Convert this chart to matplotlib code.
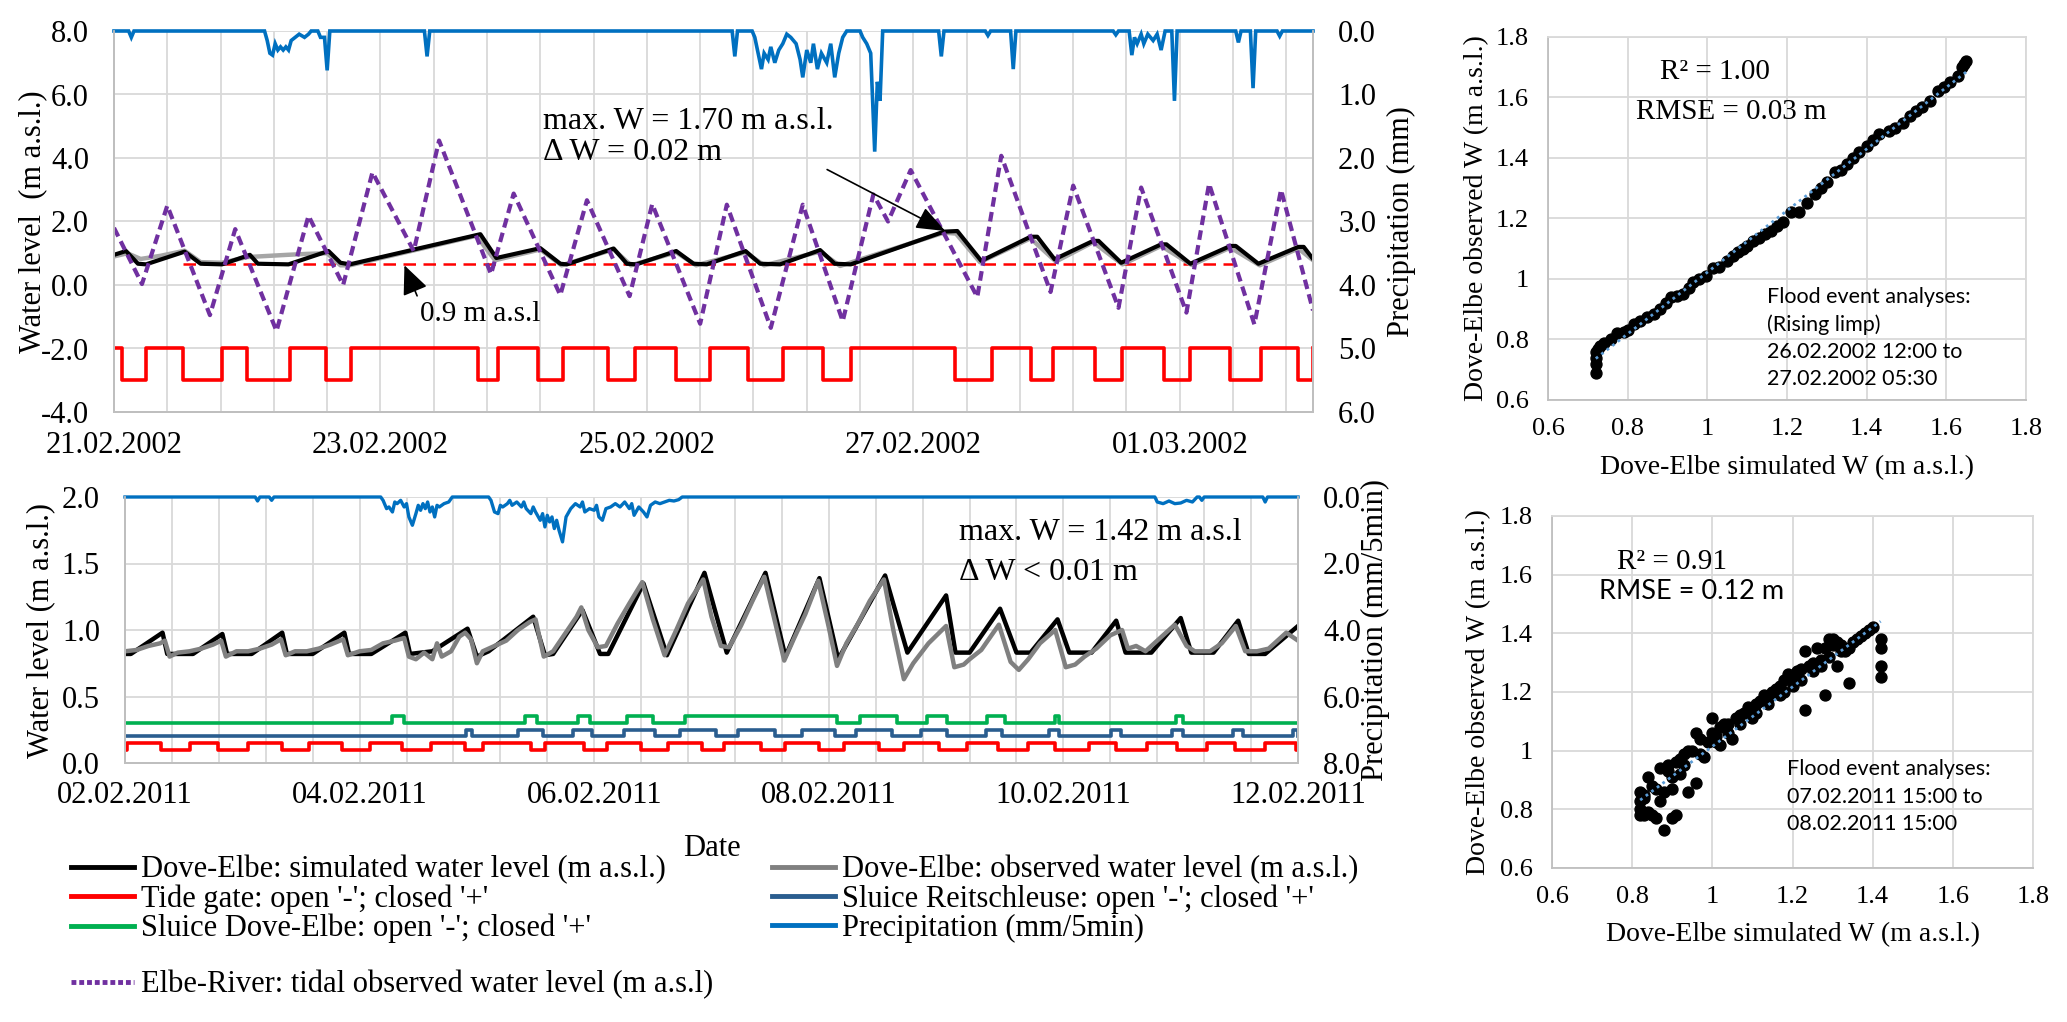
import matplotlib
matplotlib.use("Agg")
import matplotlib.pyplot as plt
import numpy as np
from matplotlib.lines import Line2D
from matplotlib.ticker import MultipleLocator, FixedLocator, FuncFormatter

plt.rcParams['font.family'] = ['Liberation Serif', 'DejaVu Serif']

# ---------------- Feb/Mar 2002 event (days after 21.02.2002 00:00) ----------------
sim02_t = [0.0, 0.09, 0.18, 0.24, 0.53, 0.65, 0.81, 1.02, 1.08, 1.31, 1.61, 1.70, 1.77,
           2.75, 2.87, 3.20, 3.35, 3.40, 3.75, 3.85, 3.92, 4.22, 4.35, 4.45, 4.74, 4.85,
           5.00, 5.30, 5.41, 5.53, 6.23, 6.33, 6.51, 6.88, 6.93, 7.06, 7.35, 7.39, 7.56,
           7.86, 7.90, 8.08, 8.38, 8.42, 8.59, 8.89, 8.93, 9.00]
sim02_w = [0.95, 1.07, 0.67, 0.65, 1.05, 0.67, 0.65, 0.95, 0.67, 0.65, 1.07, 0.70, 0.65,
           1.60, 0.85, 1.16, 0.67, 0.65, 1.15, 0.67, 0.65, 1.07, 0.67, 0.65, 1.07, 0.67,
           0.65, 1.10, 0.67, 0.65, 1.68, 1.70, 0.76, 1.52, 1.52, 0.81, 1.39, 1.39, 0.70,
           1.28, 1.28, 0.67, 1.23, 1.23, 0.67, 1.20, 1.20, 0.82]

obs02_t = [0.0, 0.10, 0.20, 0.35, 0.53, 0.65, 0.81, 1.00, 1.30, 1.45, 1.60, 1.70, 1.77,
           2.72, 2.86, 3.20, 3.36, 3.75, 3.88, 4.22, 4.37, 4.74, 4.88, 5.30, 5.45, 6.23,
           6.32, 6.50, 6.88, 7.07, 7.35, 7.57, 7.86, 8.09, 8.38, 8.60, 8.89, 9.00]
obs02_w = [0.90, 1.00, 0.82, 0.92, 1.08, 0.72, 0.70, 0.88, 0.95, 0.98, 1.00, 0.62, 0.62,
           1.55, 0.78, 1.12, 0.62, 1.12, 0.62, 1.03, 0.62, 1.03, 0.62, 1.05, 0.60, 1.65,
           1.62, 0.72, 1.47, 0.74, 1.35, 0.65, 1.23, 0.63, 1.18, 0.62, 1.15, 0.78]

elbe02_t = [0.0, 0.21, 0.40, 0.72, 0.91, 1.22, 1.46, 1.72, 1.94, 2.25, 2.44, 2.83, 3.00,
            3.35, 3.55, 3.87, 4.04, 4.40, 4.60, 4.93, 5.17, 5.47, 5.70, 5.81, 5.98, 6.48,
            6.66, 7.03, 7.20, 7.54, 7.71, 8.05, 8.22, 8.56, 8.76, 9.00]
elbe02_w = [1.80, 0.03, 2.50, -0.95, 1.76, -1.45, 2.18, 0.00, 3.55, 1.07, 4.55, 0.34, 2.88,
            -0.32, 2.67, -0.35, 2.55, -1.22, 2.53, -1.35, 2.53, -1.14, 2.85, 2.00, 3.62, -0.38,
            4.07, -0.22, 3.13, -0.72, 3.07, -0.87, 3.19, -1.24, 3.00, -0.80]

# tide gate open periods (closed = -2, open = -3)
tide02_open = [(0.06, 0.24), (0.52, 0.81), (1.00, 1.32), (1.59, 1.78), (2.73, 2.88),
               (3.18, 3.37), (3.71, 3.91), (4.22, 4.47), (4.76, 5.02), (5.32, 5.53),
               (6.31, 6.59), (6.88, 7.05), (7.36, 7.57), (7.88, 8.08), (8.38, 8.61),
               (8.89, 9.00)]

thr02_t = [0.52, 8.40]
thr02_w = 0.65

# precipitation (mm), hanging from the top axis
rain02_t = [0.00, 0.11, 0.13, 0.15,
            1.13, 1.15, 1.17, 1.19, 1.21, 1.23, 1.25, 1.27, 1.29, 1.31, 1.33, 1.36, 1.39,
            1.43, 1.46, 1.48,
            1.53, 1.55, 1.58, 1.60, 1.62,
            2.33, 2.35, 2.37,
            4.64, 4.66, 4.68,
            4.79, 4.81, 4.83, 4.86, 4.88, 4.91, 4.93, 4.96, 4.99, 5.02, 5.05, 5.08, 5.12,
            5.15, 5.17, 5.20, 5.23, 5.25, 5.28, 5.31, 5.35, 5.38, 5.41, 5.44, 5.47, 5.50,
            5.60, 5.62, 5.65, 5.68, 5.71, 5.73, 5.75, 5.77,
            6.19, 6.21, 6.23,
            6.54, 6.56, 6.58,
            6.73, 6.75, 6.77,
            7.50, 7.52, 7.54,
            7.62, 7.64, 7.66, 7.68, 7.71, 7.73, 7.76, 7.80, 7.83, 7.86, 7.89,
            7.94, 7.96, 7.98,
            8.42, 8.44, 8.46,
            8.53, 8.55, 8.57,
            8.73, 8.75, 8.77, 9.00]
rain02_mm = [0.00, 0.00, 0.10, 0.00,
             0.00, 0.15, 0.35, 0.38, 0.20, 0.30, 0.25, 0.30, 0.25, 0.30, 0.15, 0.10, 0.05,
             0.10, 0.05, 0.00,
             0.00, 0.10, 0.10, 0.62, 0.00,
             0.00, 0.40, 0.00,
             0.00, 0.40, 0.00,
             0.00, 0.10, 0.30, 0.60, 0.35, 0.45, 0.25, 0.50, 0.30, 0.20, 0.05, 0.10, 0.20,
             0.45, 0.73, 0.30, 0.50, 0.20, 0.60, 0.35, 0.50, 0.20, 0.73, 0.35, 0.10, 0.00,
             0.00, 0.10, 0.20, 0.35, 1.90, 0.80, 1.10, 0.00,
             0.00, 0.40, 0.00,
             0.00, 0.07, 0.00,
             0.00, 0.60, 0.00,
             0.00, 0.06, 0.00,
             0.00, 0.38, 0.10, 0.20, 0.05, 0.20, 0.05, 0.15, 0.05, 0.30, 0.00,
             0.00, 1.10, 0.00,
             0.00, 0.18, 0.00,
             0.00, 0.90, 0.00,
             0.00, 0.08, 0.00, 0.00]

dates02_pos = [0, 2, 4, 6, 8]
dates02_lab = ['21.02.2002', '23.02.2002', '25.02.2002', '27.02.2002', '01.03.2002']

# ---------------- Feb 2011 event (days after 02.02.2011 00:00) ----------------
sim11_t = [0.0, 0.05, 0.32, 0.36, 0.58, 0.83, 0.87, 1.08, 1.34, 1.38, 1.60, 1.87, 1.91,
           2.10, 2.39, 2.43, 2.62, 2.92, 3.00, 3.10, 3.48, 3.58, 3.65, 3.90, 4.05, 4.12,
           4.42, 4.62, 4.94, 5.13, 5.46, 5.63, 5.92, 6.08, 6.48, 6.67, 7.00, 7.08, 7.20,
           7.46, 7.60, 7.72, 7.95, 8.05, 8.24, 8.45, 8.53, 8.75, 9.00, 9.09, 9.28, 9.49,
           9.58, 9.72, 10.0]
sim11_w = [0.82, 0.82, 0.98, 0.82, 0.82, 0.97, 0.82, 0.82, 0.98, 0.82, 0.82, 0.98, 0.82,
           0.82, 0.98, 0.82, 0.84, 1.01, 0.80, 0.84, 1.10, 0.81, 0.82, 1.15, 0.82, 0.82,
           1.35, 0.81, 1.43, 0.83, 1.43, 0.80, 1.39, 0.78, 1.41, 0.83, 1.26, 0.83, 0.83,
           1.16, 0.83, 0.83, 1.08, 0.83, 0.83, 1.07, 0.83, 0.83, 1.09, 0.83, 0.83, 1.07,
           0.82, 0.82, 1.03]

obs11_t = [0.0, 0.1, 0.2, 0.3, 0.34, 0.38, 0.45, 0.55, 0.65, 0.75, 0.82, 0.86, 0.95, 1.05,
           1.15, 1.25, 1.33, 1.37, 1.45, 1.55, 1.65, 1.75, 1.86, 1.90, 2.0, 2.1, 2.2, 2.3,
           2.38, 2.42, 2.48, 2.55, 2.62, 2.66, 2.70, 2.78, 2.85, 2.90, 2.95, 3.0, 3.05, 3.15,
           3.25, 3.35, 3.45, 3.50, 3.57, 3.65, 3.75, 3.85, 3.89, 3.95, 4.03, 4.10, 4.20, 4.30,
           4.41, 4.50, 4.60, 4.70, 4.80, 4.93, 5.0, 5.08, 5.15, 5.25, 5.35, 5.45, 5.55, 5.62,
           5.70, 5.80, 5.91, 6.0, 6.07, 6.15, 6.25, 6.35, 6.47, 6.55, 6.64, 6.72, 6.85, 7.0,
           7.07, 7.15, 7.20, 7.30, 7.45, 7.55, 7.62, 7.70, 7.80, 7.93, 8.02, 8.10, 8.18, 8.28,
           8.40, 8.50, 8.55, 8.62, 8.70, 8.80, 8.95, 9.05, 9.12, 9.25, 9.35, 9.47, 9.55, 9.65,
           9.75, 9.90, 10.0]
obs11_w = [0.84, 0.85, 0.88, 0.90, 0.92, 0.80, 0.83, 0.84, 0.86, 0.89, 0.92, 0.80, 0.84, 0.84,
           0.86, 0.89, 0.93, 0.81, 0.84, 0.84, 0.86, 0.89, 0.93, 0.81, 0.84, 0.85, 0.90, 0.92,
           0.94, 0.80, 0.78, 0.83, 0.78, 0.90, 0.80, 0.84, 0.95, 0.98, 0.93, 0.75, 0.84, 0.88,
           0.92, 1.00, 1.06, 1.08, 0.80, 0.84, 0.97, 1.10, 1.17, 1.00, 0.87, 0.88, 1.05, 1.20,
           1.36, 1.08, 0.81, 1.00, 1.20, 1.38, 1.10, 0.88, 0.87, 1.03, 1.22, 1.40, 1.03, 0.77,
           0.93, 1.12, 1.37, 1.02, 0.73, 0.90, 1.05, 1.22, 1.38, 1.00, 0.63, 0.75, 0.90, 1.03,
           0.72, 0.74, 0.78, 0.85, 1.04, 0.76, 0.70, 0.78, 0.90, 1.00, 0.72, 0.74, 0.80, 0.86,
           0.96, 1.00, 0.86, 0.88, 0.84, 0.92, 1.04, 0.88, 0.84, 0.84, 0.90, 1.03, 0.84, 0.84,
           0.86, 0.98, 0.92]

# closed periods of the three gates (raised level)
tide11_closed = [(0.02, 0.31), (0.55, 0.79), (1.05, 1.34), (1.57, 1.85), (2.09, 2.36),
                 (2.61, 2.90), (3.05, 3.46), (3.58, 3.91), (4.11, 4.40), (4.63, 4.92),
                 (5.11, 5.42), (5.63, 5.92), (6.13, 6.43), (6.64, 6.94), (7.18, 7.44),
                 (7.70, 7.93), (8.22, 8.45), (8.71, 8.97), (9.22, 9.46), (9.72, 9.98)]
reit11_closed = [(2.91, 2.96), (3.35, 3.56), (3.82, 3.98), (4.25, 4.52), (4.73, 5.04),
                 (5.23, 5.54), (5.77, 6.05), (6.23, 6.54), (6.79, 7.01), (7.34, 7.48),
                 (7.88, 7.96), (8.41, 8.49), (8.93, 9.02), (9.45, 9.53), (9.96, 10.0)]
dove11_closed = [(2.28, 2.38), (3.41, 3.51), (3.86, 3.96), (4.28, 4.50), (4.77, 6.07),
                 (6.27, 6.58), (6.84, 7.01), (7.35, 7.50), (7.93, 7.96), (8.96, 9.02)]

rain11_t = [0.00, 1.11, 1.13, 1.15, 1.23, 1.25, 1.27,
            2.18, 2.20, 2.23, 2.25, 2.28, 2.30, 2.32, 2.35, 2.38, 2.40, 2.42, 2.45, 2.48,
            2.50, 2.52, 2.54, 2.56, 2.58, 2.60, 2.62, 2.64, 2.66, 2.68, 2.72, 2.76, 2.79,
            3.10, 3.12, 3.15, 3.18, 3.20, 3.22, 3.26, 3.28, 3.30, 3.34, 3.38, 3.40, 3.42,
            3.46, 3.48, 3.50, 3.54, 3.56, 3.58, 3.60, 3.62, 3.64, 3.66, 3.68, 3.70, 3.73,
            3.76, 3.80, 3.84, 3.88, 3.90, 3.92, 3.96, 4.00, 4.02, 4.04, 4.07, 4.10, 4.14,
            4.18, 4.22, 4.26, 4.30, 4.32, 4.34, 4.38, 4.42, 4.45, 4.48, 4.52, 4.56, 4.60,
            4.64, 4.68, 4.72, 4.75,
            8.78, 8.80, 8.85, 8.90, 8.95, 9.00, 9.05, 9.10, 9.14, 9.16, 9.18, 9.20,
            9.70, 9.72, 9.74, 10.0]
rain11_mm = [0.00, 0.00, 0.12, 0.00, 0.00, 0.10, 0.00,
             0.00, 0.10, 0.35, 0.30, 0.45, 0.15, 0.20, 0.10, 0.30, 0.20, 0.60, 0.85, 0.50,
             0.25, 0.40, 0.20, 0.35, 0.15, 0.45, 0.30, 0.60, 0.25, 0.30, 0.20, 0.15, 0.00,
             0.00, 0.10, 0.45, 0.50, 0.25, 0.30, 0.20, 0.10, 0.25, 0.15, 0.30, 0.15, 0.35,
             0.50, 0.30, 0.45, 0.70, 0.50, 0.90, 0.55, 0.75, 0.60, 0.95, 0.70, 1.00, 1.35,
             0.60, 0.35, 0.20, 0.30, 0.15, 0.45, 0.35, 0.40, 0.25, 0.60, 0.70, 0.35, 0.30,
             0.20, 0.30, 0.15, 0.35, 0.20, 0.55, 0.30, 0.45, 0.60, 0.25, 0.15, 0.20, 0.15,
             0.10, 0.12, 0.08, 0.00,
             0.00, 0.15, 0.20, 0.12, 0.20, 0.18, 0.10, 0.15, 0.00, 0.00, 0.10, 0.00,
             0.00, 0.15, 0.00, 0.00]

dates11_pos = [0, 2, 4, 6, 8, 10]
dates11_lab = ['02.02.2011', '04.02.2011', '06.02.2011', '08.02.2011', '10.02.2011', '12.02.2011']

# ---------------- scatter data ----------------
sc02_sim = [0.72, 0.72, 0.72, 0.72, 0.725, 0.73, 0.74, 0.757, 0.773, 0.79, 0.80, 0.816, 0.83,
            0.848, 0.865, 0.88, 0.895, 0.91, 0.925, 0.94, 0.955, 0.965, 0.98, 0.997, 1.015,
            1.03, 1.05, 1.065, 1.077, 1.09, 1.10, 1.115, 1.13, 1.145, 1.16, 1.175, 1.19, 1.21,
            1.23, 1.25, 1.27, 1.285, 1.30, 1.32, 1.335, 1.35, 1.365, 1.38, 1.40, 1.415, 1.43,
            1.455, 1.47, 1.49, 1.51, 1.525, 1.54, 1.56, 1.58, 1.595, 1.61, 1.63, 1.64, 1.645,
            1.65]
sc02_obs = [0.69, 0.72, 0.74, 0.76, 0.77, 0.78, 0.79, 0.80, 0.82, 0.825, 0.83, 0.85, 0.86,
            0.876, 0.885, 0.90, 0.92, 0.94, 0.945, 0.95, 0.97, 0.99, 1.0, 1.01, 1.035, 1.04,
            1.06, 1.075, 1.09, 1.10, 1.11, 1.125, 1.135, 1.15, 1.16, 1.175, 1.19, 1.22, 1.22,
            1.25, 1.28, 1.30, 1.32, 1.355, 1.36, 1.38, 1.40, 1.42, 1.44, 1.46, 1.48, 1.49,
            1.50, 1.515, 1.54, 1.555, 1.57, 1.59, 1.62, 1.635, 1.65, 1.67, 1.70, 1.71, 1.72]

sc11_sim = [0.82, 0.82, 0.82, 0.82, 0.83, 0.83, 0.84, 0.84, 0.85, 0.85, 0.86, 0.87, 0.87,
            0.88, 0.88, 0.89, 0.89, 0.90, 0.90, 0.91, 0.91, 0.92, 0.92, 0.93, 0.94, 0.94,
            0.95, 0.96, 0.96, 0.97, 0.98, 0.99, 1.00, 1.00, 1.01, 1.02, 1.02, 1.03, 1.04,
            1.05, 1.06, 1.07, 1.08, 1.09, 1.10, 1.10, 1.11, 1.12, 1.13, 1.14, 1.15, 1.16,
            1.17, 1.18, 1.18, 1.19, 1.20, 1.21, 1.22, 1.23, 1.23, 1.24, 1.25, 1.26, 1.27,
            1.28, 1.28, 1.29, 1.30, 1.30, 1.31, 1.31, 1.32, 1.33, 1.34, 1.35, 1.36, 1.37,
            1.38, 1.39, 1.40, 1.42, 1.42, 1.42, 1.42,
            0.83, 0.86, 0.90, 0.93, 0.97, 1.01, 1.04, 1.07, 1.11, 1.14, 1.17, 1.20, 1.22,
            1.25, 1.27, 1.29, 1.32, 1.34]
sc11_obs = [0.78, 0.80, 0.83, 0.86, 0.78, 0.84, 0.91, 0.79, 0.78, 0.88, 0.77, 0.83, 0.94,
            0.73, 0.86, 0.93, 0.95, 0.77, 0.87, 0.78, 0.96, 0.92, 0.97, 0.99, 0.86, 1.00,
            1.00, 0.89, 1.06, 1.04, 0.98, 1.03, 1.11, 1.06, 1.05, 1.02, 1.08, 1.09, 1.09,
            1.04, 1.11, 1.12, 1.13, 1.15, 1.11, 1.14, 1.16, 1.17, 1.19, 1.18, 1.20, 1.21,
            1.22, 1.20, 1.24, 1.26, 1.25, 1.27, 1.28, 1.34, 1.14, 1.29, 1.30, 1.35, 1.31,
            1.19, 1.35, 1.38, 1.36, 1.38, 1.29, 1.37, 1.36, 1.34, 1.23, 1.37, 1.38, 1.39,
            1.40, 1.41, 1.42, 1.38, 1.35, 1.29, 1.25,
            0.85, 0.87, 0.91, 0.95, 0.99, 1.03, 1.06, 1.09, 1.13, 1.16, 1.19, 1.22, 1.24,
            1.27, 1.29, 1.32, 1.34, 1.35]

# ---------------- colours ----------------
C_SIM = 'black'
C_OBS02 = '#A6A6A6'
C_OBS11 = '#808080'
C_TIDE = '#FF0000'
C_REIT = '#2A5D8F'
C_DOVE = '#00B050'
C_RAIN = '#0070C0'
C_ELBE = '#7030A0'
C_GRID = '#D9D9D9'
C_AXIS = '#BFBFBF'

FS = 22


def gate_line(intervals, t_end, base, alt):
    t, w = [0.0], [base]
    for a, b in intervals:
        t += [a, a, b, b]
        w += [base, alt, alt, base]
    t.append(t_end)
    w.append(base)
    return t, w


def style_axes(ax):
    ax.spines['top'].set_visible(False)
    for s in ['left', 'bottom', 'right']:
        ax.spines[s].set_color(C_AXIS)
        ax.spines[s].set_linewidth(1.3)


fig = plt.figure(figsize=(20.67, 10.22), dpi=100)

# ================= top time series (2002) =================
ax1 = fig.add_axes([114 / 2067, 1 - 412 / 1022, 1199 / 2067, 381 / 1022])
ax1.set_xlim(0, 9)
ax1.set_ylim(-4, 8)
ax1.xaxis.set_major_locator(FixedLocator(dates02_pos))
ax1.set_xticklabels(dates02_lab)
ax1.xaxis.set_minor_locator(MultipleLocator(0.4))
ax1.yaxis.set_major_locator(MultipleLocator(2))
ax1.yaxis.set_major_formatter(FuncFormatter(lambda v, p: f'{v:.1f}'))
ax1.grid(True, which='both', axis='x', color=C_GRID, lw=1.3)
ax1.grid(True, which='major', axis='y', color=C_GRID, lw=1.3)
ax1.set_axisbelow(True)
ax1.tick_params(axis='x', which='both', length=0, labelsize=FS, pad=14)
ax1.tick_params(axis='y', length=0, labelsize=FS, pad=18)
style_axes(ax1)

t, w = gate_line(tide02_open, 9.0, -2, -3)
ax1.plot(t, w, color=C_TIDE, lw=2.6)
ax1.plot(thr02_t, [thr02_w, thr02_w], color=C_TIDE, lw=1.8, dashes=(5, 3))
ax1.plot(obs02_t, obs02_w, color=C_OBS02, lw=3.2)
ax1.plot(sim02_t, sim02_w, color=C_SIM, lw=3.0)
ax1.plot(elbe02_t, elbe02_w, color=C_ELBE, lw=3.0, dashes=(2.3, 1.3), zorder=3)

ax1.set_ylabel('Water level  (m a.s.l.)', fontsize=FS, va='center')
ax1.yaxis.set_label_coords(-0.068, 0.5)

ax1.annotate('max. W = 1.70 m a.s.l.\nΔ W = 0.02 m', xy=(6.24, 1.70), xytext=(3.22, 5.62),
             fontsize=23, va='top', ha='left', linespacing=1.1, zorder=5,
             arrowprops=dict(arrowstyle='-|>,head_length=0.9,head_width=0.35',
                             color='black', lw=1.2, mutation_scale=20,
                             relpos=(0.82, 0.35), shrinkA=0, shrinkB=0))
ax1.annotate('0.9 m a.s.l', xy=(2.18, 0.62), xytext=(2.30, -0.92), fontsize=21,
             va='center', ha='left', zorder=5,
             arrowprops=dict(arrowstyle='-|>,head_length=0.9,head_width=0.4',
                             color='black', lw=1.2, mutation_scale=20,
                             relpos=(0.0, 0.9), shrinkA=2, shrinkB=0))

ax1r = ax1.twinx()
ax1r.set_ylim(6, 0)
ax1r.yaxis.set_major_locator(MultipleLocator(1))
ax1r.yaxis.set_major_formatter(FuncFormatter(lambda v, p: f'{v:.1f}'))
ax1r.tick_params(axis='y', length=0, labelsize=FS, pad=18)
style_axes(ax1r)
ax1r.plot(rain02_t, rain02_mm, color=C_RAIN, lw=2.6, clip_on=False, solid_joinstyle='miter')
ax1r.set_ylabel('Precipitation (mm)', fontsize=FS, va='center', rotation=90)
ax1r.yaxis.set_label_coords(1.074, 0.5)

# ================= bottom time series (2011) =================
ax2 = fig.add_axes([125 / 2067, 1 - 763 / 1022, 1173 / 2067, 266 / 1022])
ax2.set_xlim(0, 10)
ax2.set_ylim(0, 2)
ax2.xaxis.set_major_locator(FixedLocator(dates11_pos))
ax2.set_xticklabels(dates11_lab)
ax2.xaxis.set_minor_locator(MultipleLocator(0.4))
ax2.yaxis.set_major_locator(MultipleLocator(0.5))
ax2.yaxis.set_major_formatter(FuncFormatter(lambda v, p: f'{v:.1f}'))
ax2.grid(True, which='both', axis='x', color=C_GRID, lw=1.3)
ax2.grid(True, which='major', axis='y', color=C_GRID, lw=1.3)
ax2.set_axisbelow(True)
ax2.tick_params(axis='x', which='both', length=0, labelsize=FS, pad=13)
ax2.tick_params(axis='y', length=0, labelsize=FS, pad=18)
style_axes(ax2)

t, w = gate_line(dove11_closed, 10.0, 0.30, 0.35)
ax2.plot(t, w, color=C_DOVE, lw=2.6)
t, w = gate_line(reit11_closed, 10.0, 0.20, 0.25)
ax2.plot(t, w, color=C_REIT, lw=2.6)
t, w = gate_line(tide11_closed, 10.0, 0.10, 0.15)
ax2.plot(t, w, color=C_TIDE, lw=2.6)
ax2.plot(sim11_t, sim11_w, color=C_SIM, lw=3.2)
ax2.plot(obs11_t, obs11_w, color=C_OBS11, lw=3.2)

ax2.set_ylabel('Water level (m a.s.l.)', fontsize=FS, va='center')
ax2.yaxis.set_label_coords(-0.072, 0.5)
ax2.set_xlabel('Date', fontsize=FS, va='center')
ax2.xaxis.set_label_coords(0.5, -0.32)

ax2.text(7.11, 1.73, 'max. W = 1.42 m a.s.l', fontsize=23, va='center', ha='left')
ax2.text(7.11, 1.43, 'Δ W < 0.01 m', fontsize=23, va='center', ha='left')

ax2r = ax2.twinx()
ax2r.set_ylim(8, 0)
ax2r.yaxis.set_major_locator(MultipleLocator(2))
ax2r.yaxis.set_major_formatter(FuncFormatter(lambda v, p: f'{v:.1f}'))
ax2r.tick_params(axis='y', length=0, labelsize=FS, pad=18)
style_axes(ax2r)
ax2r.plot(rain11_t, rain11_mm, color=C_RAIN, lw=2.4, clip_on=False)
ax2r.set_ylabel('Precipitation (mm/5min)', fontsize=FS, va='center', rotation=90)
ax2r.yaxis.set_label_coords(1.066, 0.5)

# ================= legends =================
h_sim = Line2D([], [], color=C_SIM, lw=3.5)
h_obs = Line2D([], [], color=C_OBS11, lw=3.5)
h_tide = Line2D([], [], color=C_TIDE, lw=3.5)
h_reit = Line2D([], [], color=C_REIT, lw=3.5)
h_dove = Line2D([], [], color=C_DOVE, lw=3.5)
h_rain = Line2D([], [], color=C_RAIN, lw=3.5)
h_elbe = Line2D([], [], color=C_ELBE, lw=3.5, dashes=(1.0, 0.6))

leg_kw = dict(frameon=False, fontsize=FS, handlelength=2.05, handletextpad=0.25,
              labelspacing=0.0, borderpad=0, borderaxespad=0, loc='upper left')
fig.legend([h_sim, h_tide, h_dove],
           ["Dove-Elbe: simulated water level (m a.s.l.)",
            "Tide gate: open '-'; closed '+'",
            "Sluice Dove-Elbe: open '-'; closed '+'"],
           bbox_to_anchor=(71 / 2067, 1 - 855 / 1022), **leg_kw)
fig.legend([h_obs, h_reit, h_rain],
           ["Dove-Elbe: observed water level (m a.s.l.)",
            "Sluice Reitschleuse: open '-'; closed '+'",
            "Precipitation (mm/5min)"],
           bbox_to_anchor=(772 / 2067, 1 - 855 / 1022), **leg_kw)
fig.legend([h_elbe], ["Elbe-River: tidal observed water level (m a.s.l)"],
           bbox_to_anchor=(71 / 2067, 1 - 970 / 1022), **leg_kw)


# ================= scatter plots =================
def scatter_panel(rect, xs, ys):
    ax = fig.add_axes(rect)
    ax.set_xlim(0.6, 1.8)
    ax.set_ylim(0.6, 1.8)
    ax.xaxis.set_major_locator(MultipleLocator(0.2))
    ax.yaxis.set_major_locator(MultipleLocator(0.2))
    fmt = FuncFormatter(lambda v, p: f'{round(v, 2):g}')
    ax.xaxis.set_major_formatter(fmt)
    ax.yaxis.set_major_formatter(fmt)
    ax.grid(True, color=C_GRID, lw=1.3)
    ax.set_axisbelow(True)
    ax.tick_params(axis='both', length=0, labelsize=19)
    ax.tick_params(axis='y', pad=14)
    ax.tick_params(axis='x', pad=13)
    for s in ['top', 'right']:
        ax.spines[s].set_color(C_GRID)
        ax.spines[s].set_linewidth(1.3)
    for s in ['left', 'bottom']:
        ax.spines[s].set_color(C_AXIS)
        ax.spines[s].set_linewidth(1.3)
    ax.scatter(xs, ys, s=62, color='black', zorder=3)
    k, b = np.polyfit(xs, ys, 1)
    xr = np.array([min(xs), max(xs)])
    ax.plot(xr, k * xr + b, color='#5B9BD5', lw=2.0, ls=(0, (1, 1.5)), zorder=4)
    ax.set_xlabel('Dove-Elbe simulated W (m a.s.l.)', fontsize=20, va='center')
    ax.set_ylabel('Dove-Elbe observed W (m a.s.l.)', fontsize=20, va='center')
    return ax


axs1 = scatter_panel([1548 / 2067, 1 - 400 / 1022, 478 / 2067, 363 / 1022], sc02_sim, sc02_obs)
axs1.xaxis.set_label_coords(0.5, -0.185)
axs1.yaxis.set_label_coords(-0.149, 0.5)
axs1.text(1.02, 1.684, 'R² = 1.00', fontsize=21, ha='center', va='center')
axs1.text(1.06, 1.552, 'RMSE = 0.03 m', fontsize=21, ha='center', va='center')
axs1.text(1.15, 0.975, 'Flood event analyses:\n(Rising limp)\n26.02.2002 12:00 to\n27.02.2002 05:30',
          fontsize=15.5, ha='left', va='top', family=['Lato', 'DejaVu Sans'], linespacing=1.45)

axs2 = scatter_panel([1552 / 2067, 1 - 868 / 1022, 481 / 2067, 352 / 1022], sc11_sim, sc11_obs)
axs2.xaxis.set_label_coords(0.5, -0.19)
axs2.yaxis.set_label_coords(-0.152, 0.5)
axs2.text(0.90, 1.643, 'R² = 0.91', fontsize=21, ha='center', va='center')
axs2.text(0.947, 1.544, 'RMSE = 0.12 m', fontsize=19.5, ha='center', va='center',
          family=['Lato', 'DejaVu Sans'])
axs2.text(1.186, 0.97, 'Flood event analyses:\n07.02.2011 15:00 to\n08.02.2011 15:00',
          fontsize=15.5, ha='left', va='top', family=['Lato', 'DejaVu Sans'], linespacing=1.45)

fig.savefig('out.png', dpi=100)
